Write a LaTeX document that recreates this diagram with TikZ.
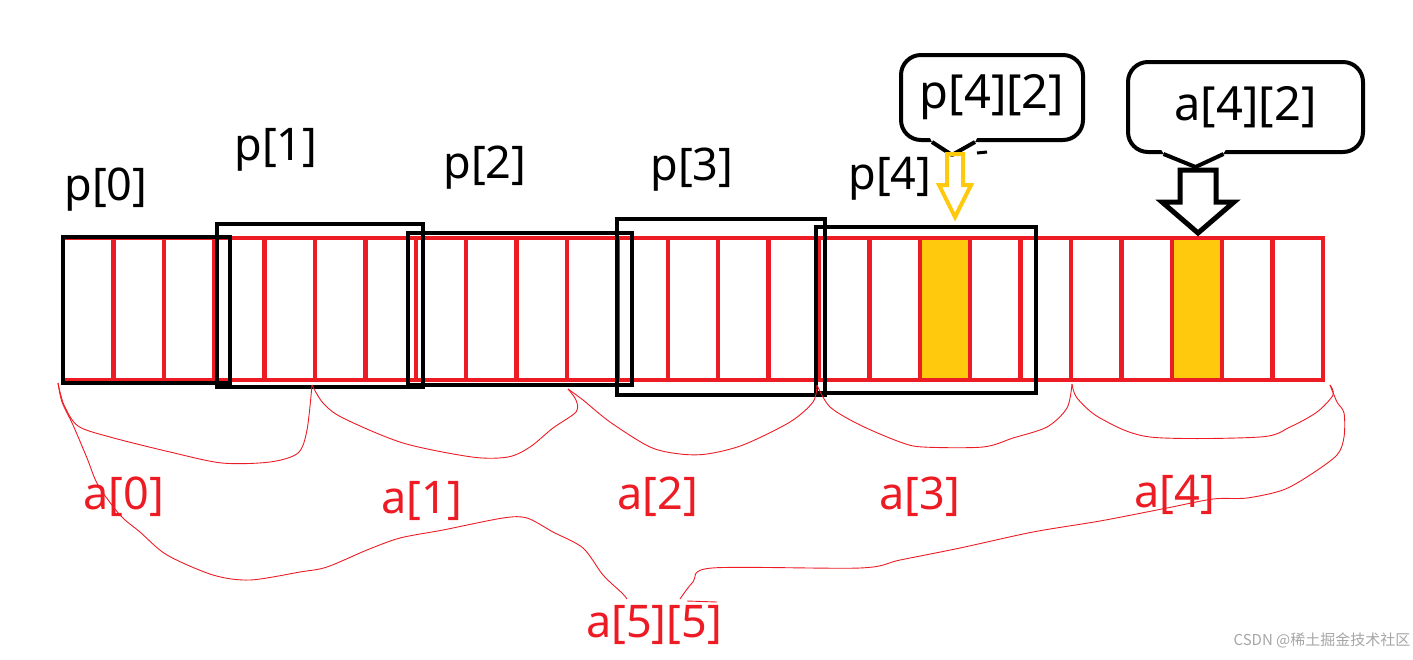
\documentclass[tikz,border=0pt]{standalone}
\usepackage{fontspec}
\setmainfont{Noto Sans}
\newfontfamily\cjk{Noto Sans CJK SC}
\usetikzlibrary{calc}
\definecolor{paintred}{RGB}{237,28,36}
\definecolor{paintgold}{RGB}{255,201,14}

\begin{document}
\begin{tikzpicture}[x=1pt,y=-1pt,
		cell/.style={draw=paintred,line width=4.5pt},
		win/.style={draw=black,line width=4.5pt},
		plbl/.style={font=\fontsize{45}{50}\selectfont,inner sep=0pt},
		albl/.style={plbl,text=paintred},
		brace/.style={draw=paintred,line width=0.9pt},
		bubble/.style={draw=black,line width=4pt,rounded corners=20pt,fill=white,
			font=\fontsize{47}{52}\selectfont,inner sep=0pt}]
		\useasboundingbox (0,0) rectangle (1413,659);

		% les 25 cases de a[5][5]
		\fill[paintgold] (63+50.4*17,238) rectangle +(50.4,142);
		\fill[paintgold] (63+50.4*22,238) rectangle +(50.4,142);
		\foreach \i in {0,...,24}{
			\draw[cell] (63+50.4*\i,238) rectangle +(50.4,142);
		}

		% fenetres p[i]
		\draw[win] (63,237) rectangle (230,383);
		\draw[win] (217,224) rectangle (423,387);
		\draw[win] (408,233) rectangle (632,385);
		\draw[win] (617,219) rectangle (825,395);
		\draw[win] (816,227) rectangle (1036,393);

		\node[plbl] (p0) at (106,190) {p[0]};
		\node[plbl] (p1) at (276,150) {p[1]};
		\node[plbl] (p2) at (485,168) {p[2]};
		\node[plbl] (p3) at (692,170) {p[3]};
		\node[plbl] (p4) at (890,179) {p[4]};

		% accolades
		\coordinate (g0) at (58,383);
		\coordinate (g1) at (312,385);
		\coordinate (g2) at (568,389);
		\coordinate (g3) at (817,385);
		\coordinate (g4) at (1072,384);
		\coordinate (g5) at (1330,385);
		\draw[brace] plot[smooth,tension=0.5] coordinates {(g0) (64,405) (78,426) (110,437) (170,452) (222,463) (270,462) (298,453) (307,430) (g1)};
		\draw[brace] plot[smooth,tension=0.5] coordinates {(g1) (323,403) (343,418) (403,443) (472,457) (508,457) (530,447) (553,428) (576,412) (576,400) (g2)};
		\draw[brace] plot[smooth,tension=0.5] coordinates {(g2) (583,400) (610,422) (650,447) (680,454) (707,454) (743,445) (790,422) (813,402) (g3)};
		\draw[brace] plot[smooth,tension=0.5] coordinates {(g3) (830,407) (860,425) (900,442) (923,447) (983,447) (1013,438) (1047,427) (1067,408) (g4)};
		\draw[brace] plot[smooth,tension=0.5] coordinates {(g4) (1077,398) (1100,418) (1150,437) (1260,437) (1290,427) (1317,412) (1333,395) (g5)};

		\node[albl] (a0) at (124,497) {a[0]};
		\node[albl] (a1) at (422,501) {a[1]};
		\node[albl] (a2) at (658,497) {a[2]};
		\node[albl] (a3) at (920,497) {a[3]};
		\node[albl] (a4) at (1175,495) {a[4]};
		\node[albl] (a55) at (654,625) {a[5][5]};

		\coordinate (bl) at (627,599);
		\coordinate (br) at (680,599);
		\draw[brace] plot[smooth,tension=0.5] coordinates {(g0) (62,402) (73,425) (87,458) (98,485) (120,515) (140,532) (167,555) (213,575) (250,580) (300,572) (327,567) (367,550) (400,538) (443,530) (503,518) (527,518) (553,532) (583,548) (603,575) (622,593) (bl)};
		\draw[brace] plot[smooth,tension=0.5] coordinates {(br) (693,582) (712,568) (860,568) (900,560) (960,548) (1033,532) (1100,521) (1167,508) (1213,499) (1247,498) (1283,490) (1310,475) (1337,455) (1344,437) (1344,413) (1337,402) (g5)};
		\draw[brace] (687,601) -- (717,602);

		% bulles
		\node[bubble,minimum width=182,minimum height=85] (bp) at (992,97.5) {p[4][2]};
		\fill[white] (929,136) -- (932,142) -- (952,153) -- (975,142) -- (978,136) -- cycle;
		\draw[line width=4pt,line join=round] ($(bp.south)+(-60,0)$) -- ($(bp.south)+(-40,13)$) -- ($(bp.south)+(-17,0)$);
		\draw[line width=3pt] (977,153) -- (987,152);

		\node[bubble,minimum width=235,minimum height=90] (ba) at (1245.5,107) {a[4][2]};
		\fill[white] (1160,148) -- (1164,154) -- (1195,165) -- (1223,154) -- (1227,148) -- cycle;
		\draw[line width=4pt,line join=round] ($(ba.south)+(-82,0)$) -- ($(ba.south)+(-50,13)$) -- ($(ba.south)+(-22,0)$);

		% fleches
		\begin{scope}[shift={(955,217)}]
		\draw[draw=paintgold,line width=4pt] (0,0) -- (16,-32) -- (8,-32) -- (8,-63) -- (-8,-63) -- (-8,-32) -- (-16,-32) -- cycle;
		\end{scope}
		\begin{scope}[shift={(1198,233)}]
		\draw[line width=5pt] (0,0) -- (36,-31) -- (18,-31) -- (18,-63) -- (-18,-63) -- (-18,-31) -- (-36,-31) -- cycle;
		\end{scope}

		\node[text=black!35,font=\cjk\fontsize{15}{17}\selectfont] (wm) at (1322,640) {CSDN @稀土掘金技术社区};
\end{tikzpicture}
\end{document}
